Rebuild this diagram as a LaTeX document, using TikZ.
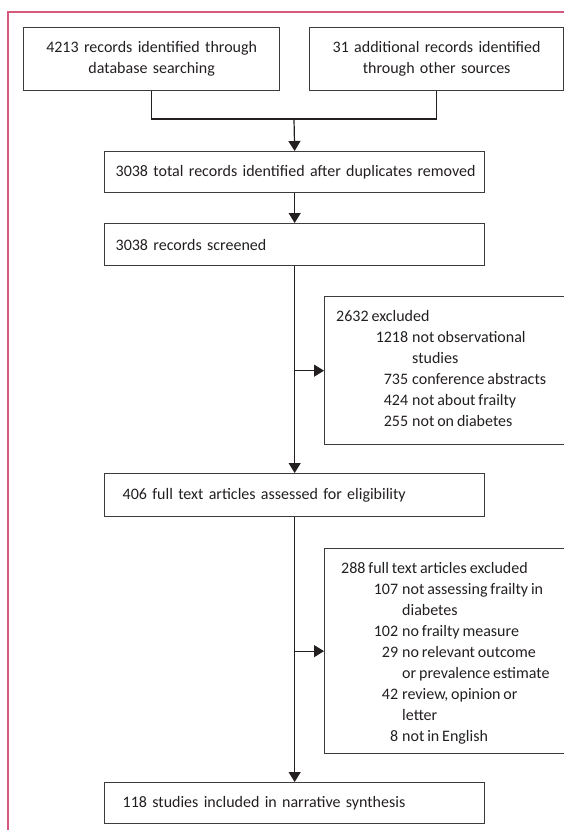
\documentclass[tikz,border=0pt]{standalone}
\usepackage{fontspec}
\setmainfont{Carlito}[WordSpace=0.8]
\usetikzlibrary{arrows.meta}
\definecolor{framecol}{RGB}{214,88,124}
\definecolor{boxcol}{RGB}{60,60,60}
\definecolor{txtcol}{RGB}{35,31,32}
\begin{document}
\begin{tikzpicture}[x=1pt,y=-1pt,
  every node/.style={font=\fontsize{16}{21}\selectfont, text=txtcol},
  box/.style={draw=boxcol, line width=1.3pt, rectangle, anchor=north west, inner ysep=0pt},
  conn/.style={draw=txtcol, line width=1.2pt},
  arr/.style={conn, -{Triangle[length=10pt,width=12pt]}},
  txtblock/.style={anchor=base west, inner sep=0pt}
  ]
\useasboundingbox (0,0) rectangle (564,830);
\clip (0,0) rectangle (564,830);

\draw[framecol, line width=1.3pt] (580,12) -- (8,12) -- (8,850);

\node[box, minimum width=256pt, minimum height=63pt, text width=240pt, align=center] (b1) at (23,27) {4213 records identified through\\database searching};
\node[box, minimum width=254pt, minimum height=63pt, text width=238pt, align=center] (b2) at (309,27) {31 additional records identified\\through other sources};

\node[box, minimum width=380pt, minimum height=41pt, inner xsep=11pt, text width=358pt, align=left] (b3) at (104,151) {\mbox{3038 total records identified after duplicates removed}};
\node[box, minimum width=380pt, minimum height=42pt, inner xsep=11pt, text width=358pt, align=left] (b4) at (104,223) {\mbox{3038 records screened}};
\node[box, minimum width=380pt, minimum height=43pt, inner xsep=18pt, text width=344pt, align=left] (b5) at (104,473) {\mbox{406 full text articles assessed for eligibility}};
\node[box, minimum width=380pt, minimum height=41pt, inner xsep=18pt, text width=344pt, align=left] (b6) at (104,782) {\mbox{118 studies included in narrative synthesis}};

\node[box, minimum width=260pt, minimum height=148pt] (e1) at (324,296) {};
\node[box, minimum width=260pt, minimum height=205pt] (e2) at (324,548) {};

\node[txtblock] (e1t) at (336,321) {\begin{tabular}[t]{@{}r@{\hspace{4pt}}l@{}}
\multicolumn{2}{@{}l@{}}{2632 excluded}\\
\makebox[72pt][r]{1218} & not observational\\
 & studies\\
735 & conference abstracts\\
424 & not about frailty\\
255 & not on diabetes
\end{tabular}};

\node[txtblock] (e2t) at (341,573) {\begin{tabular}[t]{@{}r@{\hspace{4pt}}l@{}}
\multicolumn{2}{@{}l@{}}{288 full text articles excluded}\\
\makebox[57pt][r]{107} & not assessing frailty in\\
 & diabetes\\
102 & no frailty measure\\
29 & no relevant outcome\\
 & or prevalence estimate\\
42 & review, opinion or\\
 & letter\\
8 & not in English
\end{tabular}};

\coordinate (j) at (294,119);
\draw[conn] (b1.south) |- (b2.south |- j) -- (b2.south);
\draw[arr] (j) -- (b3.north);
\draw[arr] (b3.south) -- (b4.north);
\draw[arr] (b4.south) -- (b5.north);
\draw[arr] (b4.south |- e1.west) -- (e1.west);
\draw[arr] (b5.south) -- (b6.north);
\draw[arr] (b5.south |- e2.west) -- (e2.west);
\end{tikzpicture}
\end{document}
